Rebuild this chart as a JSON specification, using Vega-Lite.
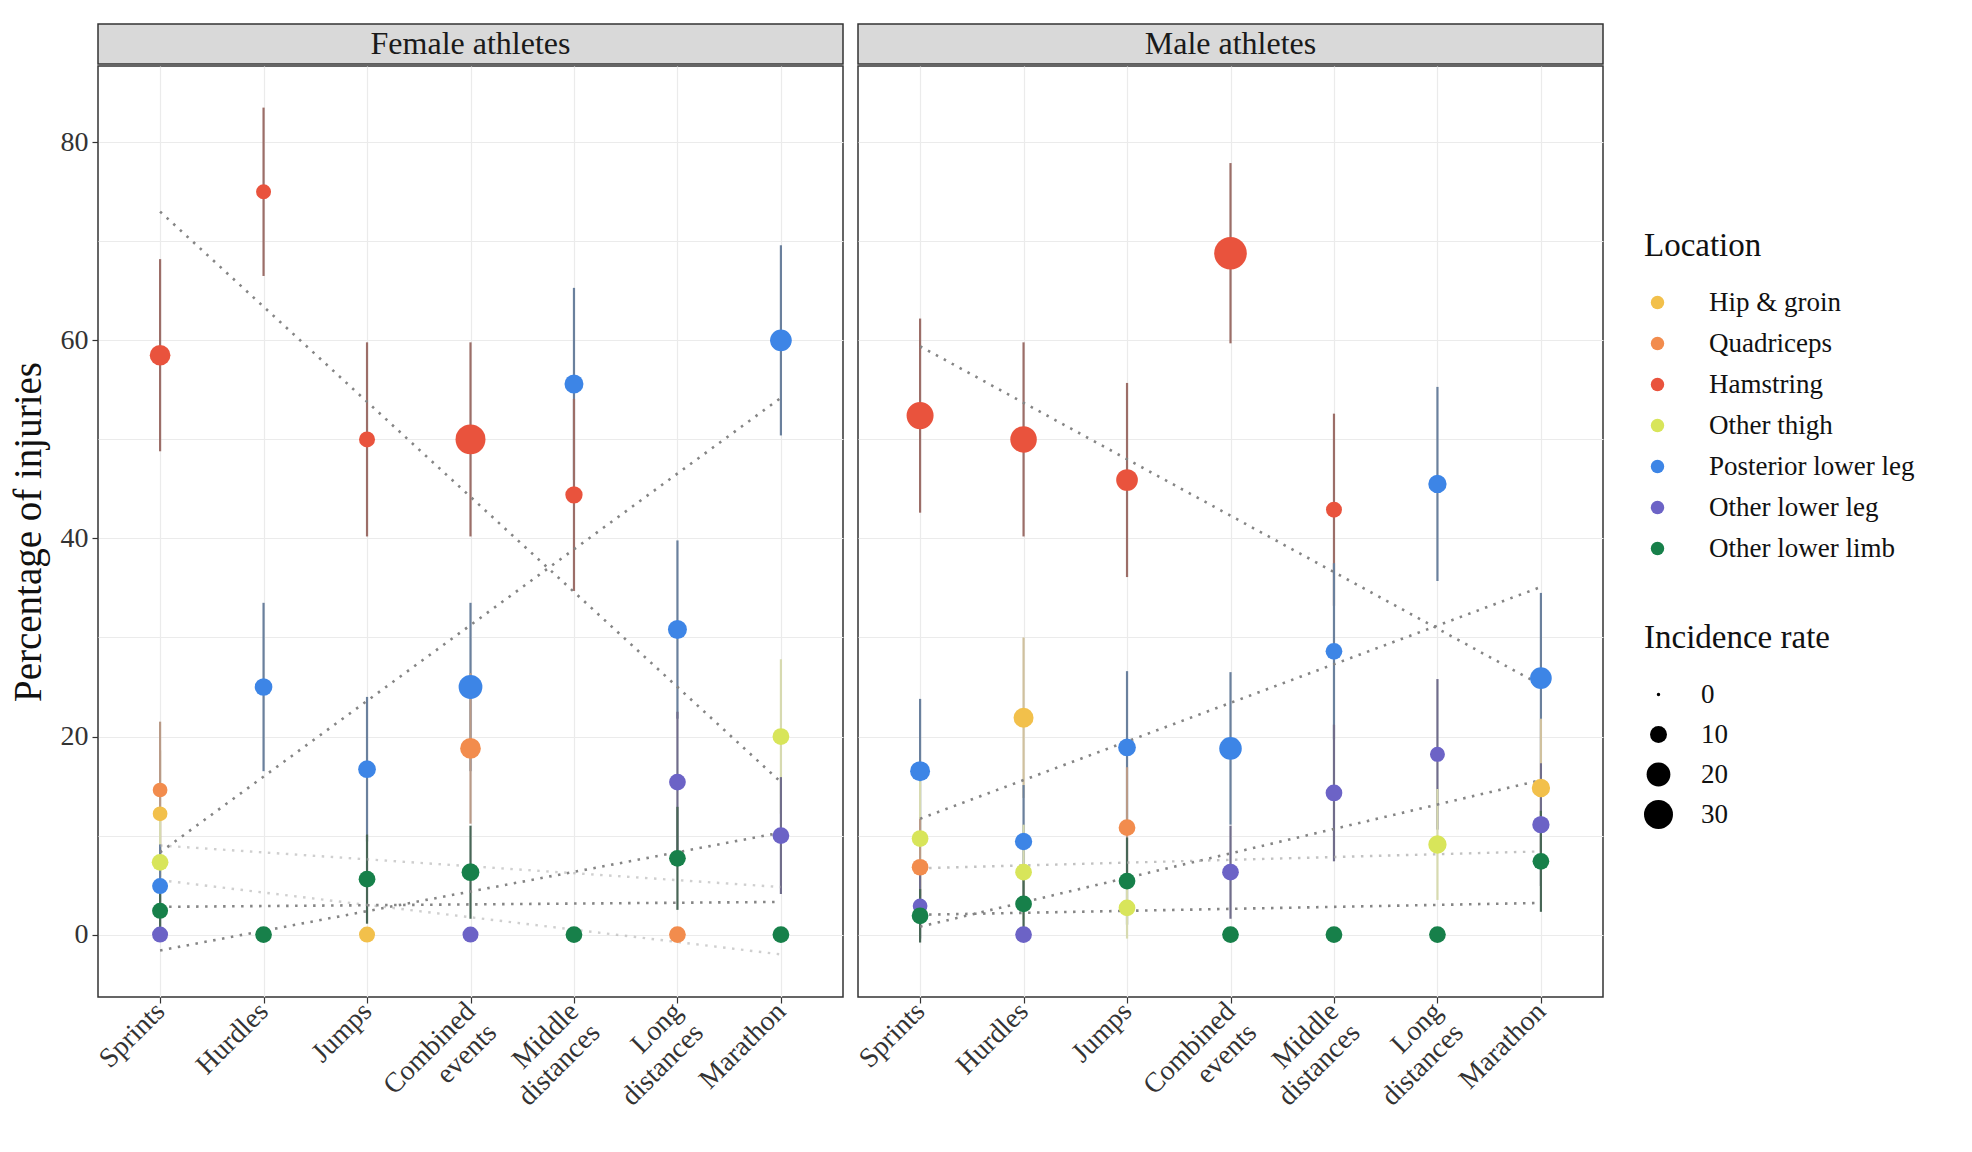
{
  "$schema": "https://vega.github.io/schema/vega-lite/v6.json",
  "background": "white",
  "padding": {"left": 8, "top": 23, "right": 10, "bottom": 5},
  "config": {
    "font": "Liberation Serif",
    "view": {"stroke": "#333333", "strokeWidth": 1.5},
    "axis": {
      "labelFont": "Liberation Serif", "titleFont": "Liberation Serif",
      "labelFontSize": 28, "labelColor": "#333333",
      "titleFontSize": 39, "titleColor": "#111111", "titleFontWeight": "normal",
      "gridColor": "#ebebeb", "gridWidth": 1.2,
      "tickColor": "#333333", "tickSize": 6, "tickWidth": 1.2, "domain": false
    },
    "legend": {
      "titleFont": "Liberation Serif", "labelFont": "Liberation Serif",
      "titleFontSize": 33, "titleFontWeight": "normal", "titleColor": "#111111", "titleLimit": 400,
      "labelFontSize": 27, "labelColor": "#111111", "labelLimit": 400,
      "titlePadding": 26
    }
  },
  "datasets": {
    "pts": [
      {"sex":"Female","event":"Sprints","location":"Hip & groin","pct":12.2,"lo":5.8,"hi":18.6,"rate":7.4},
      {"sex":"Female","event":"Sprints","location":"Quadriceps","pct":14.6,"lo":7.7,"hi":21.5,"rate":7.4},
      {"sex":"Female","event":"Sprints","location":"Hamstring","pct":58.5,"lo":48.8,"hi":68.2,"rate":15},
      {"sex":"Female","event":"Sprints","location":"Other thigh","pct":7.3,"lo":2.2,"hi":12.4,"rate":9.7},
      {"sex":"Female","event":"Sprints","location":"Posterior lower leg","pct":4.9,"lo":0.7,"hi":9.1,"rate":8.8},
      {"sex":"Female","event":"Sprints","location":"Other lower leg","pct":0,"lo":0,"hi":0,"rate":8.8},
      {"sex":"Female","event":"Sprints","location":"Other lower limb","pct":2.4,"lo":-0.6,"hi":5.4,"rate":8.8},
      {"sex":"Female","event":"Hurdles","location":"Hamstring","pct":75,"lo":66.5,"hi":83.5,"rate":7.7},
      {"sex":"Female","event":"Hurdles","location":"Posterior lower leg","pct":25,"lo":16.5,"hi":33.5,"rate":10.9},
      {"sex":"Female","event":"Hurdles","location":"Other lower limb","pct":0,"lo":0,"hi":0,"rate":9.7},
      {"sex":"Female","event":"Jumps","location":"Hamstring","pct":50,"lo":40.2,"hi":59.8,"rate":8.8},
      {"sex":"Female","event":"Jumps","location":"Posterior lower leg","pct":16.7,"lo":9.4,"hi":24.0,"rate":10.9},
      {"sex":"Female","event":"Jumps","location":"Other lower limb","pct":5.6,"lo":1.1,"hi":10.1,"rate":9.7},
      {"sex":"Female","event":"Jumps","location":"Hip & groin","pct":0,"lo":0,"hi":0,"rate":8.8},
      {"sex":"Female","event":"Combined events","location":"Hamstring","pct":50,"lo":40.2,"hi":59.8,"rate":32},
      {"sex":"Female","event":"Combined events","location":"Posterior lower leg","pct":25,"lo":16.5,"hi":33.5,"rate":20},
      {"sex":"Female","event":"Combined events","location":"Quadriceps","pct":18.8,"lo":11.2,"hi":26.4,"rate":15},
      {"sex":"Female","event":"Combined events","location":"Other lower limb","pct":6.3,"lo":1.6,"hi":11.0,"rate":11},
      {"sex":"Female","event":"Combined events","location":"Other lower leg","pct":0,"lo":0,"hi":0,"rate":8.8},
      {"sex":"Female","event":"Middle distances","location":"Posterior lower leg","pct":55.6,"lo":45.9,"hi":65.3,"rate":12.6},
      {"sex":"Female","event":"Middle distances","location":"Hamstring","pct":44.4,"lo":34.7,"hi":54.1,"rate":10.4},
      {"sex":"Female","event":"Middle distances","location":"Other lower limb","pct":0,"lo":0,"hi":0,"rate":9.7},
      {"sex":"Female","event":"Long distances","location":"Posterior lower leg","pct":30.8,"lo":21.8,"hi":39.8,"rate":12.6},
      {"sex":"Female","event":"Long distances","location":"Other lower leg","pct":15.4,"lo":8.3,"hi":22.5,"rate":9.7},
      {"sex":"Female","event":"Long distances","location":"Other lower limb","pct":7.7,"lo":2.5,"hi":12.9,"rate":9.7},
      {"sex":"Female","event":"Long distances","location":"Quadriceps","pct":0,"lo":0,"hi":0,"rate":9.7},
      {"sex":"Female","event":"Marathon","location":"Posterior lower leg","pct":60,"lo":50.4,"hi":69.6,"rate":16.6},
      {"sex":"Female","event":"Marathon","location":"Other thigh","pct":20,"lo":12.2,"hi":27.8,"rate":9.7},
      {"sex":"Female","event":"Marathon","location":"Other lower leg","pct":10,"lo":4.1,"hi":15.9,"rate":9.7},
      {"sex":"Female","event":"Marathon","location":"Other lower limb","pct":0,"lo":0,"hi":0,"rate":9.7},
      {"sex":"Male","event":"Sprints","location":"Hamstring","pct":52.4,"lo":42.6,"hi":62.2,"rate":26},
      {"sex":"Male","event":"Sprints","location":"Posterior lower leg","pct":16.5,"lo":9.2,"hi":23.8,"rate":14},
      {"sex":"Male","event":"Sprints","location":"Other thigh","pct":9.7,"lo":3.9,"hi":15.5,"rate":9.7},
      {"sex":"Male","event":"Sprints","location":"Quadriceps","pct":6.8,"lo":1.9,"hi":11.7,"rate":9.7},
      {"sex":"Male","event":"Sprints","location":"Other lower leg","pct":2.9,"lo":-0.4,"hi":6.2,"rate":7.4},
      {"sex":"Male","event":"Sprints","location":"Other lower limb","pct":1.9,"lo":-0.8,"hi":4.6,"rate":9.7},
      {"sex":"Male","event":"Hurdles","location":"Hamstring","pct":50,"lo":40.2,"hi":59.8,"rate":25},
      {"sex":"Male","event":"Hurdles","location":"Hip & groin","pct":21.9,"lo":13.8,"hi":30.0,"rate":14},
      {"sex":"Male","event":"Hurdles","location":"Posterior lower leg","pct":9.4,"lo":3.7,"hi":15.1,"rate":10.4},
      {"sex":"Male","event":"Hurdles","location":"Other thigh","pct":6.3,"lo":1.5,"hi":11.1,"rate":9.7},
      {"sex":"Male","event":"Hurdles","location":"Other lower limb","pct":3.1,"lo":-0.3,"hi":6.5,"rate":9.7},
      {"sex":"Male","event":"Hurdles","location":"Other lower leg","pct":0,"lo":0,"hi":0,"rate":9.7},
      {"sex":"Male","event":"Jumps","location":"Hamstring","pct":45.9,"lo":36.1,"hi":55.7,"rate":16.6},
      {"sex":"Male","event":"Jumps","location":"Posterior lower leg","pct":18.9,"lo":11.2,"hi":26.6,"rate":10.9},
      {"sex":"Male","event":"Jumps","location":"Quadriceps","pct":10.8,"lo":4.7,"hi":16.9,"rate":9.7},
      {"sex":"Male","event":"Jumps","location":"Other lower limb","pct":5.4,"lo":1.0,"hi":9.8,"rate":9.7},
      {"sex":"Male","event":"Jumps","location":"Other thigh","pct":2.7,"lo":-0.4,"hi":5.8,"rate":9.7},
      {"sex":"Male","event":"Combined events","location":"Hamstring","pct":68.8,"lo":59.7,"hi":77.9,"rate":38},
      {"sex":"Male","event":"Combined events","location":"Posterior lower leg","pct":18.8,"lo":11.1,"hi":26.5,"rate":18},
      {"sex":"Male","event":"Combined events","location":"Other lower leg","pct":6.3,"lo":1.6,"hi":11.0,"rate":9.7},
      {"sex":"Male","event":"Combined events","location":"Other lower limb","pct":0,"lo":0,"hi":0,"rate":9.7},
      {"sex":"Male","event":"Middle distances","location":"Hamstring","pct":42.9,"lo":33.2,"hi":52.6,"rate":8.8},
      {"sex":"Male","event":"Middle distances","location":"Posterior lower leg","pct":28.6,"lo":19.7,"hi":37.5,"rate":9.7},
      {"sex":"Male","event":"Middle distances","location":"Other lower leg","pct":14.3,"lo":7.4,"hi":21.2,"rate":9.7},
      {"sex":"Male","event":"Middle distances","location":"Other lower limb","pct":0,"lo":0,"hi":0,"rate":9.7},
      {"sex":"Male","event":"Long distances","location":"Posterior lower leg","pct":45.5,"lo":35.7,"hi":55.3,"rate":11.7},
      {"sex":"Male","event":"Long distances","location":"Other lower leg","pct":18.2,"lo":10.6,"hi":25.8,"rate":7.7},
      {"sex":"Male","event":"Long distances","location":"Other thigh","pct":9.1,"lo":3.5,"hi":14.7,"rate":11.7},
      {"sex":"Male","event":"Long distances","location":"Other lower limb","pct":0,"lo":0,"hi":0,"rate":9.7},
      {"sex":"Male","event":"Marathon","location":"Posterior lower leg","pct":25.9,"lo":17.3,"hi":34.5,"rate":16.6},
      {"sex":"Male","event":"Marathon","location":"Hip & groin","pct":14.8,"lo":7.8,"hi":21.8,"rate":11.7},
      {"sex":"Male","event":"Marathon","location":"Other lower leg","pct":11.1,"lo":4.9,"hi":17.3,"rate":10.4},
      {"sex":"Male","event":"Marathon","location":"Other lower limb","pct":7.4,"lo":2.3,"hi":12.5,"rate":9.7}
    ],
    "trend": [
      {"sex":"Female","event":"Sprints","location":"Hamstring","pct":73.0},
      {"sex":"Female","event":"Marathon","location":"Hamstring","pct":15.4},
      {"sex":"Female","event":"Sprints","location":"Posterior lower leg","pct":8.3},
      {"sex":"Female","event":"Marathon","location":"Posterior lower leg","pct":54.2},
      {"sex":"Female","event":"Sprints","location":"Other lower limb","pct":2.8},
      {"sex":"Female","event":"Marathon","location":"Other lower limb","pct":3.3},
      {"sex":"Female","event":"Sprints","location":"Other lower leg","pct":-1.6},
      {"sex":"Female","event":"Marathon","location":"Other lower leg","pct":10.3},
      {"sex":"Female","event":"Sprints","location":"Hip & groin","pct":9.0},
      {"sex":"Female","event":"Marathon","location":"Hip & groin","pct":4.8},
      {"sex":"Female","event":"Sprints","location":"Quadriceps","pct":5.5},
      {"sex":"Female","event":"Marathon","location":"Quadriceps","pct":-2.0},
      {"sex":"Male","event":"Sprints","location":"Hamstring","pct":59.4},
      {"sex":"Male","event":"Marathon","location":"Hamstring","pct":25.2},
      {"sex":"Male","event":"Sprints","location":"Posterior lower leg","pct":11.7},
      {"sex":"Male","event":"Marathon","location":"Posterior lower leg","pct":35.1},
      {"sex":"Male","event":"Sprints","location":"Other lower leg","pct":0.8},
      {"sex":"Male","event":"Marathon","location":"Other lower leg","pct":15.6},
      {"sex":"Male","event":"Sprints","location":"Other lower limb","pct":2.0},
      {"sex":"Male","event":"Marathon","location":"Other lower limb","pct":3.2},
      {"sex":"Male","event":"Sprints","location":"Other thigh","pct":6.7},
      {"sex":"Male","event":"Marathon","location":"Other thigh","pct":8.4}
    ]
  },
  "concat": [
    {
      "width": 745, "height": 40,
      "data": {"values": [{"label": "Female athletes"}]},
      "mark": {"type": "text", "fontSize": 32, "font": "Liberation Serif", "color": "#1a1a1a"},
      "encoding": {"text": {"field": "label", "type": "nominal"}},
      "view": {"fill": "#d9d9d9", "stroke": "#333333", "strokeWidth": 1.5}
    },
    {
      "width": 745, "height": 40,
      "data": {"values": [{"label": "Male athletes"}]},
      "mark": {"type": "text", "fontSize": 32, "font": "Liberation Serif", "color": "#1a1a1a"},
      "encoding": {"text": {"field": "label", "type": "nominal"}},
      "view": {"fill": "#d9d9d9", "stroke": "#333333", "strokeWidth": 1.5}
    },
    {
      "width": 745, "height": 931,
      "encoding": {
        "x": {"field": "event", "type": "nominal", "title": null,
          "scale": {"type": "point", "domain": ["Sprints","Hurdles","Jumps","Combined events","Middle distances","Long distances","Marathon"], "padding": 0.6},
          "axis": {"labelAngle": -45, "labelAlign": "right", "labelBaseline": "middle", "labelExpr": "split(datum.label, ' ')", "grid": true, "labelPadding": 4}}
      },
      "layer": [
        {
          "data": {"name": "pts"},
          "transform": [{"filter": "datum.sex == 'Female' && datum.hi > datum.lo"}],
          "mark": {"type": "rule", "strokeWidth": 2.2},
          "encoding": {
            "y": {"field": "lo", "type": "quantitative", "title": "Percentage of injuries",
              "scale": {"domain": [-6.3, 87.7], "nice": false, "zero": false},
              "axis": {"values": [0,10,20,30,40,50,60,70,80], "labelExpr": "datum.value % 20 == 0 ? datum.label : ''",
                "tickOpacity": {"condition": {"test": "datum.value % 20 == 0", "value": 1}, "value": 0},
                "labelPadding": 4, "titlePadding": 12, "grid": true}},
            "y2": {"field": "hi"},
            "stroke": {"field": "location", "type": "nominal", "legend": null,
              "scale": {"domain": ["Other lower limb","Other lower leg","Posterior lower leg","Other thigh","Hamstring","Quadriceps","Hip & groin"],
                "range": ["#486656","#706d8b","#6a809d","#d7dab0","#9c6e68","#b99a87","#d0c19e"]}}
          }
        },
        {
          "data": {"name": "trend"},
          "transform": [{"filter": "datum.sex == 'Female' && indexof(['Hamstring','Posterior lower leg','Other lower limb','Other lower leg'], datum.location) >= 0"}],
          "mark": {"type": "line", "strokeDash": [2.5, 6.5], "strokeWidth": 2.6, "color": "#858585"},
          "encoding": {"y": {"field": "pct", "type": "quantitative", "title": "Percentage of injuries"}, "detail": {"field": "location"}}
        },
        {
          "data": {"name": "trend"},
          "transform": [{"filter": "datum.sex == 'Female' && indexof(['Hamstring','Posterior lower leg','Other lower limb','Other lower leg'], datum.location) < 0"}],
          "mark": {"type": "line", "strokeDash": [2.5, 6.5], "strokeWidth": 2.4, "color": "#a8a8a8", "opacity": 0.55},
          "encoding": {"y": {"field": "pct", "type": "quantitative", "title": "Percentage of injuries"}, "detail": {"field": "location"}}
        },
        {
          "data": {"name": "pts"},
          "transform": [{"filter": "datum.sex == 'Female'"}],
          "mark": {"type": "circle", "opacity": 1},
          "encoding": {
            "y": {"field": "pct", "type": "quantitative", "title": "Percentage of injuries"},
            "color": {"field": "location", "type": "nominal",
              "scale": {"domain": ["Hip & groin","Quadriceps","Hamstring","Other thigh","Posterior lower leg","Other lower leg","Other lower limb"],
                "range": ["#f2c04b","#f28c4d","#e9533d","#d8e55a","#3d85e6","#6c63c6","#17804a"]},
              "legend": {"title": "Location", "symbolType": "circle", "symbolSize": 180, "labelOffset": 38, "rowPadding": 13,
                "orient": "none", "direction": "vertical", "legendX": 1546, "legendY": 206}},
            "size": {"field": "rate", "type": "quantitative",
              "scale": {"domain": [0, 30], "range": [12, 841]},
              "legend": {"title": "Incidence rate", "values": [0, 10, 20, 30], "symbolFillColor": "#000000", "symbolStrokeWidth": 0, "symbolOpacity": 1, "rowPadding": 12, "labelOffset": 28,
                "orient": "none", "direction": "vertical", "legendX": 1546, "legendY": 598}}
          }
        }
      ]
    },
    {
      "width": 745, "height": 931,
      "encoding": {
        "x": {"field": "event", "type": "nominal", "title": null,
          "scale": {"type": "point", "domain": ["Sprints","Hurdles","Jumps","Combined events","Middle distances","Long distances","Marathon"], "padding": 0.6},
          "axis": {"labelAngle": -45, "labelAlign": "right", "labelBaseline": "middle", "labelExpr": "split(datum.label, ' ')", "grid": true, "labelPadding": 4}}
      },
      "layer": [
        {
          "data": {"name": "pts"},
          "transform": [{"filter": "datum.sex == 'Male' && datum.hi > datum.lo"}],
          "mark": {"type": "rule", "strokeWidth": 2.2},
          "encoding": {
            "y": {"field": "lo", "type": "quantitative", "title": null,
              "scale": {"domain": [-6.3, 87.7], "nice": false, "zero": false},
              "axis": {"values": [0,10,20,30,40,50,60,70,80], "labels": false, "ticks": false, "title": null, "grid": true}},
            "y2": {"field": "hi"},
            "stroke": {"field": "location", "type": "nominal", "legend": null,
              "scale": {"domain": ["Other lower limb","Other lower leg","Posterior lower leg","Other thigh","Hamstring","Quadriceps","Hip & groin"],
                "range": ["#486656","#706d8b","#6a809d","#d7dab0","#9c6e68","#b99a87","#d0c19e"]}}
          }
        },
        {
          "data": {"name": "trend"},
          "transform": [{"filter": "datum.sex == 'Male' && indexof(['Hamstring','Posterior lower leg','Other lower limb','Other lower leg'], datum.location) >= 0"}],
          "mark": {"type": "line", "strokeDash": [2.5, 6.5], "strokeWidth": 2.6, "color": "#858585"},
          "encoding": {"y": {"field": "pct", "type": "quantitative", "title": null}, "detail": {"field": "location"}}
        },
        {
          "data": {"name": "trend"},
          "transform": [{"filter": "datum.sex == 'Male' && indexof(['Hamstring','Posterior lower leg','Other lower limb','Other lower leg'], datum.location) < 0"}],
          "mark": {"type": "line", "strokeDash": [2.5, 6.5], "strokeWidth": 2.4, "color": "#a8a8a8", "opacity": 0.7},
          "encoding": {"y": {"field": "pct", "type": "quantitative", "title": null}, "detail": {"field": "location"}}
        },
        {
          "data": {"name": "pts"},
          "transform": [{"filter": "datum.sex == 'Male'"}],
          "mark": {"type": "circle", "opacity": 1},
          "encoding": {
            "y": {"field": "pct", "type": "quantitative", "title": null},
            "color": {"field": "location", "type": "nominal",
              "scale": {"domain": ["Hip & groin","Quadriceps","Hamstring","Other thigh","Posterior lower leg","Other lower leg","Other lower limb"],
                "range": ["#f2c04b","#f28c4d","#e9533d","#d8e55a","#3d85e6","#6c63c6","#17804a"]},
              "legend": {"title": "Location", "symbolType": "circle", "symbolSize": 180, "labelOffset": 38, "rowPadding": 13,
                "orient": "none", "direction": "vertical", "legendX": 1546, "legendY": 206}},
            "size": {"field": "rate", "type": "quantitative",
              "scale": {"domain": [0, 30], "range": [12, 841]},
              "legend": {"title": "Incidence rate", "values": [0, 10, 20, 30], "symbolFillColor": "#000000", "symbolStrokeWidth": 0, "symbolOpacity": 1, "rowPadding": 12, "labelOffset": 28,
                "orient": "none", "direction": "vertical", "legendX": 1546, "legendY": 598}}
          }
        }
      ]
    }
  ],
  "columns": 2,
  "spacing": {"row": 2, "column": 15},
  "bounds": "flush",
  "resolve": {"scale": {"color": "shared", "size": "shared", "stroke": "shared"}, "legend": {"color": "shared", "size": "shared"}}
}
